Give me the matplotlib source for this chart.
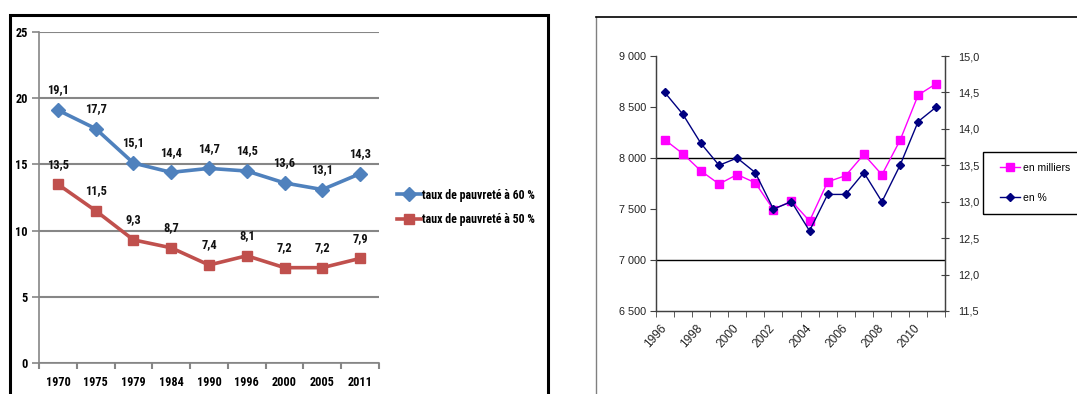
import warnings
import matplotlib
matplotlib.use("Agg")
import matplotlib.pyplot as plt
from matplotlib.patches import Rectangle
from matplotlib.lines import Line2D
from matplotlib.ticker import FixedLocator, FuncFormatter, MultipleLocator

warnings.filterwarnings("ignore")

# --- Poverty rate by threshold (left panel) ---
survey_years = ["1970", "1975", "1979", "1984", "1990", "1996", "2000", "2005", "2011"]
rate_60 = [19.1, 17.7, 15.1, 14.4, 14.7, 14.5, 13.6, 13.1, 14.3]
rate_50 = [13.5, 11.5, 9.3, 8.7, 7.4, 8.1, 7.2, 7.2, 7.9]
name_60 = "taux de pauvreté à 60 %"
name_50 = "taux de pauvreté à 50 %"

# --- Poor people at the 60 % threshold, 1996-2011 (right panel) ---
years = list(range(1996, 2012))
poor_thousands = [8179, 8042, 7873, 7745, 7838, 7757, 7495, 7578,
                  7382, 7766, 7828, 8035, 7836, 8173, 8617, 8729]
poor_percent = [14.5, 14.2, 13.8, 13.5, 13.6, 13.4, 12.9, 13.0,
                12.6, 13.1, 13.1, 13.4, 13.0, 13.5, 14.1, 14.3]
name_thousands = "en milliers"
name_percent = "en %"
grid_levels = [7000, 8000]

W, H = 1077, 394
fig = plt.figure(figsize=(W / 100, H / 100), dpi=100)
fig.patch.set_facecolor("white")


def fx(px):
    return px / W


def fy(py):
    return (H - py) / H


NARROW = ["Liberation Sans Narrow", "Roboto Condensed", "DejaVu Sans Condensed",
          "Liberation Sans"]
ARIAL = ["Liberation Sans", "DejaVu Sans"]
GREY = "#868686"
NFONT = {"family": NARROW, "weight": "bold", "stretch": "condensed"}

# ---------------- left panel ----------------
ax1 = fig.add_axes([fx(39), fy(363), fx(340), 331 / H])
xs = list(range(len(survey_years)))
ax1.plot(xs, rate_60, color="#4F81BD", lw=2.6, marker="D", ms=7.5,
         label=name_60, zorder=3)
ax1.plot(xs, rate_50, color="#C0504D", lw=2.6, marker="s", ms=7.5,
         label=name_50, zorder=3)
ax1.set_xlim(-0.5, len(survey_years) - 0.5)
ax1.set_ylim(0, 25)
ax1.yaxis.set_major_locator(MultipleLocator(5))
ax1.grid(axis="y", color=GREY, lw=1.5)
ax1.set_axisbelow(True)
for s in ("top", "right"):
    ax1.spines[s].set_visible(False)
for s in ("left", "bottom"):
    ax1.spines[s].set_color(GREY)
    ax1.spines[s].set_linewidth(1.2)
ax1.set_xticks(xs)
ax1.set_xticklabels(survey_years)
ax1.xaxis.set_minor_locator(FixedLocator([i - 0.5 for i in range(len(survey_years) + 1)]))
ax1.tick_params(axis="x", which="major", length=0, pad=9)
ax1.tick_params(axis="x", which="minor", length=4, width=1.5, color=GREY)
ax1.tick_params(axis="y", length=5, width=1.2, color=GREY, pad=3)
for lab in ax1.get_xticklabels() + ax1.get_yticklabels():
    lab.set_fontproperties(dict(NFONT, size=8.8))
for series in (rate_60, rate_50):
    for i, v in enumerate(series):
        ax1.annotate(f"{v:.1f}".replace(".", ","), (i, v), xytext=(0, 14.5),
                     textcoords="offset points", ha="center", va="center",
                     fontproperties=dict(NFONT, size=9), color="#111111")
leg1 = ax1.legend(loc="center left", bbox_to_anchor=(fx(397), fy(207.5)),
                  bbox_transform=fig.transFigure, frameon=False,
                  borderpad=0, borderaxespad=0, handlelength=2.0,
                  handletextpad=0.1, labelspacing=1.0,
                  prop=dict(NFONT, size=8.6))

# outer frame of the left panel
fig.add_artist(Rectangle((fx(9.5), -0.1), fx(547.5 - 9.5), fy(15) + 0.1,
                         transform=fig.transFigure, fill=False,
                         edgecolor="black", lw=2.2, clip_on=False))

# ---------------- right panel ----------------
ax2 = fig.add_axes([fx(655.7), fy(311), fx(289.6), 255 / H])
ax3 = ax2.twinx()
xr = list(range(len(years)))
AXC = "#404040"

for y in grid_levels:
    ax2.axhline(y, color="black", lw=1.0, zorder=1)
l1, = ax2.plot(xr, poor_thousands, color="#FF00FF", lw=1.0, marker="s",
               ms=5.5, label=name_thousands, zorder=3)
l2, = ax3.plot(xr, poor_percent, color="#000080", lw=1.0, marker="D",
               ms=3.8, label=name_percent, zorder=3)
ax2.set_xlim(-0.5, len(years) - 0.5)
ax2.set_ylim(6500, 9000)
ax3.set_ylim(11.5, 15.0)
ax2.yaxis.set_major_locator(MultipleLocator(500))
ax3.yaxis.set_major_locator(MultipleLocator(0.5))
ax2.yaxis.set_major_formatter(FuncFormatter(lambda v, p: f"{int(v):,}".replace(",", " ")))
ax3.yaxis.set_major_formatter(FuncFormatter(lambda v, p: f"{v:.1f}".replace(".", ",")))

for a in (ax2, ax3):
    a.spines["top"].set_visible(False)
    for s in ("left", "right", "bottom"):
        a.spines[s].set_color(AXC)
        a.spines[s].set_linewidth(0.9)

label_pos = [i for i, yr in enumerate(years) if yr % 2 == 0]
ax2.set_xticks(label_pos)
ax2.set_xticklabels([str(years[i]) for i in label_pos], rotation=48,
                    ha="right", va="center", rotation_mode="anchor")
ax2.xaxis.set_minor_locator(FixedLocator([i - 0.5 for i in range(len(years) + 1)]))
ax2.tick_params(axis="x", which="major", length=0, pad=11)
ax2.tick_params(axis="x", which="minor", length=4, color=AXC)
ax2.tick_params(axis="y", length=4, color=AXC, pad=3)
ax3.tick_params(axis="y", direction="inout", length=6, color=AXC, pad=6)
for lab in ax2.get_yticklabels() + ax3.get_yticklabels():
    lab.set_fontfamily(ARIAL)
    lab.set_fontsize(7.8)
    lab.set_color("#222222")
for lab in ax2.get_xticklabels():
    lab.set_fontfamily(ARIAL)
    lab.set_fontsize(8.6)
    lab.set_color("#222222")

# legend box of the right panel
fig.add_artist(Rectangle((fx(983), fy(214)), fx(110), (214 - 152) / H,
                         transform=fig.transFigure, fill=False,
                         edgecolor="black", lw=1.0, clip_on=False))
leg2 = ax3.legend([l1, l2], [name_thousands, name_percent], loc="center left",
                  bbox_to_anchor=(fx(1000), fy(183)),
                  bbox_transform=fig.transFigure, frameon=False,
                  borderpad=0, borderaxespad=0, handlelength=1.9,
                  handletextpad=0.3, labelspacing=1.9,
                  prop={"family": ARIAL, "size": 7.5})

# outer frame of the right panel
fig.add_artist(Line2D([fx(596), fx(596)], [0, fy(17)], color="#808080",
                      lw=1.0, transform=fig.transFigure))
fig.add_artist(Line2D([fx(596), 1.0], [fy(17), fy(17)], color="black",
                      lw=1.2, transform=fig.transFigure))

fig.savefig("out.png", dpi=100, facecolor="white")
